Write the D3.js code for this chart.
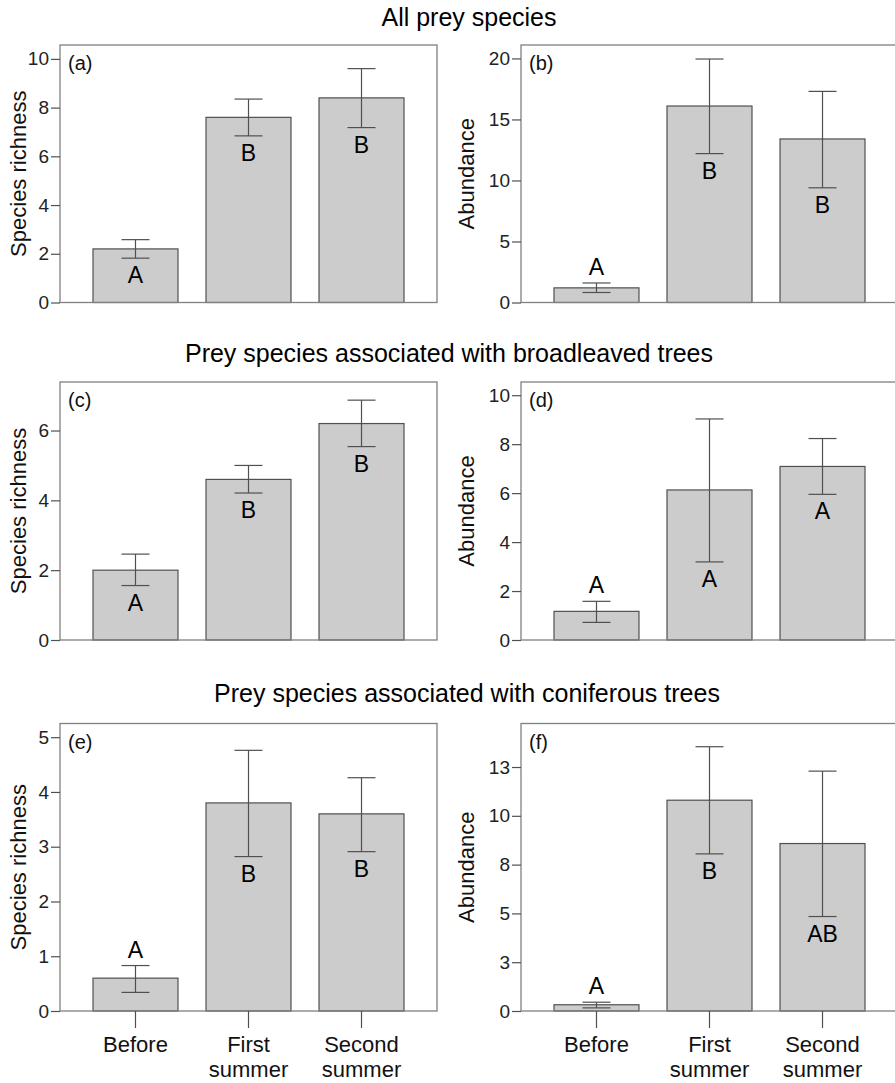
<!DOCTYPE html>
<html>
<head>
<meta charset="utf-8">
<script src="https://cdn.jsdelivr.net/npm/d3@7"></script>
<style>
	body { margin: 0; background: #fff; }
	svg { display: block; font-family: "Liberation Sans", Arial, sans-serif; }
	.row-title { font-size: 25px; fill: #000; text-anchor: middle; }
	.y-title { font-size: 22px; fill: #111; text-anchor: middle; }
	.panel-label { font-size: 20px; fill: #111; }
	.group-letter { font-size: 23px; fill: #000; text-anchor: middle; }
	.frame { fill: none; stroke: #808080; stroke-width: 1.3; }
	.bar { fill: #cccccc; stroke: #505050; stroke-width: 1.2; }
	.err { stroke: #505050; stroke-width: 1.2; fill: none; }
	.yaxis text { font-size: 19px; fill: #222; }
	.xaxis text { font-size: 22px; fill: #111; }
	.yaxis line, .xaxis line { stroke: #505050; stroke-width: 1.2; }
</style>
</head>
<body>
<svg id="chart" width="895" height="1083"></svg>
<script>
// categories on the x axis
const categories = ["Before", "First summer", "Second summer"];

// row titles and y axis titles
const rowTitles = [
	"All prey species",
	"Prey species associated with broadleaved trees",
	"Prey species associated with coniferous trees"
];
const yTitles = ["Species richness", "Abundance"];
const panelLabels = ["(a)", "(b)", "(c)", "(d)", "(e)", "(f)"];

// (a) all prey, species richness
const richAllMean = [2.2, 7.6, 8.4];
const richAllLow = [1.82, 6.84, 7.18];
const richAllHigh = [2.58, 8.35, 9.6];
const richAllLetters = ["A", "B", "B"];
const richAllTicks = [0, 2, 4, 6, 8, 10];

// (b) all prey, abundance
const abundAllMean = [1.2, 16.1, 13.4];
const abundAllLow = [0.82, 12.2, 9.4];
const abundAllHigh = [1.6, 19.95, 17.3];
const abundAllLetters = ["A", "B", "B"];
const abundAllTicks = [0, 5, 10, 15, 20];

// (c) broadleaved, species richness
const richBroadMean = [2.0, 4.6, 6.2];
const richBroadLow = [1.56, 4.21, 5.54];
const richBroadHigh = [2.46, 5.0, 6.87];
const richBroadLetters = ["A", "B", "B"];
const richBroadTicks = [0, 2, 4, 6];

// (d) broadleaved, abundance
const abundBroadMean = [1.17, 6.13, 7.09];
const abundBroadLow = [0.72, 3.19, 5.95];
const abundBroadHigh = [1.58, 9.03, 8.23];
const abundBroadLetters = ["A", "A", "A"];
const abundBroadTicks = [0, 2, 4, 6, 8, 10];

// (e) coniferous, species richness
const richConifMean = [0.6, 3.8, 3.6];
const richConifLow = [0.34, 2.82, 2.91];
const richConifHigh = [0.83, 4.76, 4.26];
const richConifLetters = ["A", "B", "B"];
const richConifTicks = [0, 1, 2, 3, 4, 5];

// (f) coniferous, abundance
const abundConifMean = [0.32, 10.8, 8.58];
const abundConifLow = [0.16, 8.05, 4.84];
const abundConifHigh = [0.45, 13.54, 12.29];
const abundConifLetters = ["A", "B", "AB"];
const abundConifTicks = [0, 2.5, 5, 7.5, 10, 12.5];

// upper end of each y axis
const yMax = [10.57, 21.1, 7.39, 10.54, 5.25, 14.73];

// layout
const colX = [60, 521];
const panelWidth = 377;
const rowY = [
	{ top: 45, bottom: 302.5 },
	{ top: 382, bottom: 640 },
	{ top: 723.5, bottom: 1011 }
];
const titlePos = [
	{ x: 469, y: 26 },
	{ x: 449, y: 362 },
	{ x: 467, y: 702 }
];
const yTitleX = [26, 474];

const svg = d3.select("#chart");

const panels = [
	{ mean: richAllMean, low: richAllLow, high: richAllHigh, letters: richAllLetters, ticks: richAllTicks },
	{ mean: abundAllMean, low: abundAllLow, high: abundAllHigh, letters: abundAllLetters, ticks: abundAllTicks },
	{ mean: richBroadMean, low: richBroadLow, high: richBroadHigh, letters: richBroadLetters, ticks: richBroadTicks },
	{ mean: abundBroadMean, low: abundBroadLow, high: abundBroadHigh, letters: abundBroadLetters, ticks: abundBroadTicks },
	{ mean: richConifMean, low: richConifLow, high: richConifHigh, letters: richConifLetters, ticks: richConifTicks },
	{ mean: abundConifMean, low: abundConifLow, high: abundConifHigh, letters: abundConifLetters, ticks: abundConifTicks }
];

// row titles
rowTitles.forEach((t, i) => {
	svg.append("text")
		.attr("class", "row-title")
		.attr("x", titlePos[i].x)
		.attr("y", titlePos[i].y)
		.text(t);
});

function drawPanel(p, i) {
	const row = Math.floor(i / 2);
	const col = i % 2;
	const left = colX[col];
	const right = left + panelWidth;
	const { top, bottom } = rowY[row];

	const x = d3.scaleBand()
		.domain(categories)
		.range([left, right])
		.paddingInner(0.248)
		.paddingOuter(0.292);

	const y = d3.scaleLinear()
		.domain([0, yMax[i]])
		.range([bottom, top]);

	const g = svg.append("g").attr("class", `panel panel-${i}`);

	// bars
	g.selectAll(".bar")
		.data(p.mean)
		.join("rect")
		.attr("class", "bar")
		.attr("x", (d, k) => x(categories[k]))
		.attr("y", (d) => y(d))
		.attr("width", x.bandwidth())
		.attr("height", (d) => y(0) - y(d));

	// error bars
	const capHalf = 14;
	categories.forEach((c, k) => {
		const cx = x(c) + x.bandwidth() / 2;
		g.append("line")
			.attr("class", "err")
			.attr("x1", cx).attr("x2", cx)
			.attr("y1", y(p.low[k])).attr("y2", y(p.high[k]));
		[p.low[k], p.high[k]].forEach((v) => {
			g.append("line")
				.attr("class", "err")
				.attr("x1", cx - capHalf).attr("x2", cx + capHalf)
				.attr("y1", y(v)).attr("y2", y(v));
		});

		// group letter: above the bar if the low end sits close to the baseline
		const nearBase = (y(0) - y(p.low[k])) < 30;
		g.append("text")
			.attr("class", "group-letter")
			.attr("x", cx)
			.attr("y", nearBase ? y(p.high[k]) - 8 : y(p.low[k]) + 25)
			.text(p.letters[k]);
	});

	// frame
	g.append("rect")
		.attr("class", "frame")
		.attr("x", left)
		.attr("y", top)
		.attr("width", panelWidth)
		.attr("height", bottom - top);

	// y axis
	const yAxis = g.append("g")
		.attr("class", "yaxis")
		.attr("transform", `translate(${left},0)`)
		.call(d3.axisLeft(y).tickValues(p.ticks).tickSize(9).tickPadding(2).tickFormat(d3.format(".0f")));
	yAxis.select(".domain").remove();

	// x axis, bottom row only
	if (row === 2) {
		const xAxis = g.append("g")
			.attr("class", "xaxis")
			.attr("transform", `translate(0,${bottom})`)
			.call(d3.axisBottom(x).tickSize(17).tickPadding(8));
		xAxis.select(".domain").remove();
		xAxis.selectAll(".tick text").each(function (d) {
			const el = d3.select(this);
			el.text(null);
			d.split(" ").forEach((w, j) => {
				el.append("tspan")
					.attr("x", 0)
					.attr("dy", j === 0 ? "0.71em" : "1.15em")
					.text(w);
			});
		});
	}

	// panel label
	g.append("text")
		.attr("class", "panel-label")
		.attr("x", left + 8)
		.attr("y", top + 25)
		.text(panelLabels[i]);

	// y title
	g.append("text")
		.attr("class", "y-title")
		.attr("transform", `translate(${yTitleX[col]},${(top + bottom) / 2}) rotate(-90)`)
		.text(yTitles[col]);
}

panels.forEach(drawPanel);
</script>
</body>
</html>
